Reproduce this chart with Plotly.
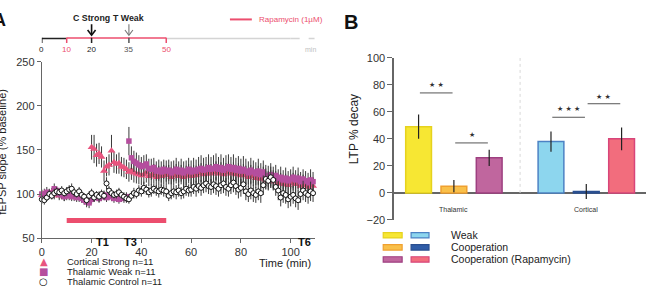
import plotly.graph_objects as go

# ---------------- DATA ----------------
time_min = list(range(0, 110))

cortical_strong = [99, 101, 98, 100, 102, 99, 101, 98, 100, 97,
                   99, 98, 100, 97, 99, 96, 98, 95, 94, 96,
                   153, 151, 144, 146, 142, 126, 131, 133, 149, 136,
                   134, 135, 131, 130, 128, 125, 127, 124, 123, 122,
                   121, 122, 124, 120, 121, 123, 119, 121, 120, 122,
                   121, 122, 119, 121, 123, 120, 122, 119, 121, 123,
                   120, 122, 121, 123, 124, 122, 123, 125, 123, 124,
                   126, 123, 125, 122, 124, 126, 123, 125, 122, 124,
                   121, 123, 121, 119, 122, 120, 118, 121, 117, 120,
                   116, 115, 117, 114, 116, 112, 114, 111, 113, 110,
                   112, 114, 111, 113, 109, 112, 110, 108, 111, 109]
cortical_strong_sem = [5, 5, 5, 5, 5, 5, 5, 5, 5, 5,
                       5, 5, 5, 5, 5, 5, 5, 5, 5, 5,
                       14, 16, 13, 12, 12, 12, 11, 12, 18, 12,
                       11, 12, 11, 11, 11, 11, 11, 11, 11, 11,
                       11, 11, 11, 11, 11, 11, 11, 11, 11, 11,
                       11, 11, 11, 11, 11, 11, 11, 11, 11, 11,
                       11, 11, 11, 11, 11, 11, 11, 11, 11, 11,
                       11, 11, 11, 11, 11, 11, 11, 11, 11, 11,
                       11, 11, 11, 11, 11, 11, 11, 11, 11, 11,
                       10, 10, 10, 10, 10, 10, 10, 10, 10, 10,
                       10, 10, 10, 10, 10, 10, 10, 10, 10, 10]

thalamic_weak = [100, 98, 102, 101, 99, 106, 104, 100, 99, 97,
                 98, 100, 97, 99, 96, 98, 95, 93, 91, 90,
                 94, 96, 98, 95, 97, 99, 96, 98, 97, 95,
                 96, 94, 96, 95, 97, 160, 141, 137, 135, 133,
                 131, 132, 134, 129, 128, 130, 126, 127, 125, 128,
                 126, 127, 124, 126, 128, 125, 127, 124, 126, 128,
                 125, 127, 126, 128, 129, 127, 128, 130, 128, 129,
                 131, 128, 130, 127, 129, 131, 128, 130, 127, 129,
                 126, 128, 126, 124, 127, 125, 123, 126, 122, 125,
                 121, 120, 122, 119, 121, 117, 119, 116, 118, 115,
                 117, 119, 116, 118, 114, 117, 115, 113, 116, 114]
thalamic_weak_sem = [5, 5, 6, 5, 5, 6, 5, 5, 5, 5,
                     5, 5, 5, 5, 5, 5, 5, 5, 6, 6,
                     5, 5, 5, 5, 5, 5, 5, 5, 5, 5,
                     5, 5, 5, 5, 5, 16, 13, 12, 12, 11,
                     11, 12, 11, 11, 12, 11, 11, 12, 12, 11,
                     12, 12, 13, 12, 13, 12, 13, 13, 12, 13,
                     13, 14, 13, 14, 15, 14, 14, 15, 14, 15,
                     15, 14, 15, 14, 15, 14, 14, 15, 14, 14,
                     14, 15, 14, 13, 14, 13, 13, 14, 13, 13,
                     12, 12, 13, 12, 12, 11, 12, 11, 12, 11,
                     11, 12, 11, 12, 11, 11, 11, 11, 12, 11]

thalamic_control = [94, 93, 96, 100, 98, 101, 103, 102, 104, 101,
                    103, 105, 106, 102, 100, 103, 99, 97, 93, 98,
                    101, 96, 99, 97, 100, 98, 112, 104, 101, 99,
                    100, 102, 99, 97, 95, 94, 98, 101, 100, 104,
                    103, 107, 105, 102, 104, 106, 104, 103, 105, 104,
                    103, 98, 101, 103, 102, 104, 101, 103, 106, 104,
                    105, 108, 106, 109, 107, 110, 112, 109, 108, 111,
                    109, 106, 110, 112, 108, 106, 110, 113, 109, 105,
                    107, 111, 103, 100, 104, 101, 99, 103, 101, 110,
                    117, 115, 119, 116, 108, 104, 96, 101, 99, 94,
                    97, 99, 95, 93, 100, 104, 101, 99, 103, 101]
thalamic_control_sem = [5, 5, 4, 5, 4, 5, 5, 4, 5, 4,
                        5, 5, 6, 5, 4, 5, 5, 4, 6, 5,
                        5, 5, 4, 6, 5, 5, 7, 5, 5, 4,
                        5, 5, 4, 5, 5, 5, 5, 6, 5, 6,
                        6, 7, 6, 6, 7, 6, 6, 7, 6, 7,
                        7, 6, 7, 7, 8, 7, 7, 8, 8, 7,
                        8, 8, 9, 8, 9, 9, 10, 9, 9, 10,
                        10, 9, 10, 11, 10, 9, 10, 11, 10, 10,
                        10, 11, 10, 9, 10, 10, 9, 10, 11, 11,
                        12, 11, 12, 11, 10, 11, 10, 11, 10, 10,
                        11, 10, 10, 11, 10, 11, 10, 10, 11, 10]

series_names = ["Cortical Strong n=11", "Thalamic Weak n=11", "Thalamic Control n=11"]

rapa_start, rapa_end, rapa_level = 10, 50, 70
stim_times = [20, 35]
stim_labels = ["C Strong", "T Weak"]
timeline_ticks = [0, 10, 20, 35, 50]
test_times = [24.4, 35.6, 105.6]
test_labels = ["T1", "T3", "T6"]

bar_groups = ["Thalamic", "Cortical"]
bar_series = ["Weak", "Cooperation", "Cooperation (Rapamycin)"]
weak_decay = [49, 38]
weak_sem = [9, 7.5]
coop_decay = [5, 1]
coop_sem = [4.5, 5.5]
rapa_decay = [26, 40]
rapa_sem = [6, 8.5]

# ---------------- STYLE ----------------
W, H = 646, 295
def fx(p): return p / W
def fy(p): return 1 - p / H

FONT = "Liberation Sans, Arial, sans-serif"
PINK = "#E8557F"
PURPLE = "#B54E9E"
RAPA = "#EC4E6E"
AX = "#666666"

bar_fill = [["#F7E733", "#8DD6EE"], ["#F9C04A", "#2F5DA8"], ["#C0669E", "#F26D7D"]]
bar_line = [["#E6D21E", "#4C82C4"], ["#F0A030", "#2A4F90"], ["#9E3F80", "#D8457A"]]

fig = go.Figure()

def add_series(y, err, name, symbol, size, color, lcolor, lwidth):
    fig.add_trace(go.Scatter(
        x=time_min, y=y, mode="markers", name=name,
        marker=dict(symbol=symbol, size=size, color=color,
                    line=dict(color=lcolor, width=lwidth)),
        error_y=dict(type="data", array=err, color="#3a3a3a", thickness=1, width=0),
        xaxis="x", yaxis="y", cliponaxis=False))

add_series(cortical_strong, cortical_strong_sem, series_names[0], "triangle-up", 7, PINK, PINK, 0)
add_series(thalamic_weak, thalamic_weak_sem, series_names[1], "square", 5.5, PURPLE, PURPLE, 0)
add_series(thalamic_control, thalamic_control_sem, series_names[2], "circle", 5, "white", "#111111", 1)

for i, (vals, sems) in enumerate([(weak_decay, weak_sem), (coop_decay, coop_sem), (rapa_decay, rapa_sem)]):
    fig.add_trace(go.Bar(
        x=bar_groups, y=vals, name=bar_series[i],
        marker=dict(color=bar_fill[i], line=dict(color=bar_line[i], width=1.5)),
        error_y=dict(type="data", array=sems, color="#222222", thickness=1.2, width=0),
        xaxis="x2", yaxis="y2"))

shapes = []
ann = []

def text(x, y, t, size, color="#222", xref="paper", yref="paper", xanchor="center",
         family=FONT, **kw):
    d = dict(x=x, y=y, xref=xref, yref=yref, text=t, showarrow=False, xanchor=xanchor,
             yanchor="middle", font=dict(size=size, color=color, family=family))
    d.update(kw)
    ann.append(d)

# rapamycin bar in panel A
shapes.append(dict(type="line", xref="x", yref="y", x0=rapa_start, x1=rapa_end,
                   y0=rapa_level, y1=rapa_level, line=dict(color=RAPA, width=5)))

# timeline
ty = fy(34)
shapes += [
    dict(type="line", xref="x", yref="paper", x0=0, x1=rapa_start, y0=ty, y1=ty, line=dict(color="#222", width=1.5)),
    dict(type="line", xref="x", yref="paper", x0=rapa_end, x1=100, y0=ty, y1=ty, line=dict(color="#d4d4d4", width=1.5)),
    dict(type="line", xref="x", yref="paper", x0=100, x1=110.4, y0=ty, y1=ty, line=dict(color="#d4d4d4", width=1.5, dash="dash")),
    dict(type="line", xref="x", yref="paper", x0=rapa_start, x1=rapa_end, y0=fy(33.3), y1=fy(33.3), line=dict(color=RAPA, width=1.5)),
]
tick_cols = {0: "#222", 10: RAPA, 20: "#222", 35: "#555", 50: RAPA}
for t in timeline_ticks:
    shapes.append(dict(type="line", xref="x", yref="paper", x0=t, x1=t, y0=fy(33), y1=fy(38.5),
                       line=dict(color=tick_cols[t], width=1.5)))
    text(t, fy(45), str(t), 8, tick_cols[t], xref="x")
text(108, fy(45), "min", 7, "#c0c0c0", xref="x")
for t, lab, col, w in zip(stim_times, stim_labels, ["#111", "#777"], [1.6, 1.1]):
    shapes.append(dict(type="line", xref="x", yref="paper", x0=t, x1=t, y0=fy(19), y1=fy(30),
                       line=dict(color=col, width=w)))
    shapes.append(dict(type="path", xref="x", yref="paper",
                       path="M %f,%f L %f,%f L %f,%f" % (t - 1.6, fy(25), t, fy(30.5), t + 1.6, fy(25)),
                       line=dict(color=col, width=w)))
    text(t, fy(13), "<b>%s</b>" % lab, 8.8, "#222", xref="x")
shapes.append(dict(type="line", xref="paper", yref="paper", x0=fx(228), x1=fx(250), y0=fy(14), y1=fy(14),
                   line=dict(color=RAPA, width=2)))
text(fx(255), fy(14), "Rapamycin (1µM)", 8, RAPA, xanchor="left")

# test labels
for t, lab in zip(test_times, test_labels):
    text(t, fy(246.5), "<b>%s</b>" % lab, 11, "#111", xref="x")

text(fx(311), fy(268), "Time (min)", 11, "#222", xanchor="right")
text(fx(-1), fy(152), "fEPSP slope (% baseline)", 11, "#222", textangle=-90)

# legend panel A
for i, (g, col) in enumerate(zip(["▲", "■", "○"], [PINK, PURPLE, "#111"])):
    yy = fy(266 + 10.5 * i)
    text(fx(41), yy, g, 10, col, family="DejaVu Sans")
    text(fx(62), yy, series_names[i], 9.5, "#222", xanchor="left")

# panel letters
text(fx(5), fy(15), "<b>A</b>", 18, "#111", xanchor="right")
text(fx(350), fy(17), "<b>B</b>", 20, "#111")

# Panel B decorations
slot = 0.8 / 3
shapes.append(dict(type="line", xref="x2", yref="y2", x0=0.5, x1=0.5, y0=0, y1=100,
                   line=dict(color="#d8d8d8", width=1, dash="dot")))
sig = [(-slot, 0, 74, 80, "★ ★"), (0, slot, 37, 42.5, "★"),
       (1 - slot, 1, 56, 62, "★ ★ ★"), (1, 1 + slot, 66, 71, "★ ★")]
for x0, x1, yl, ys, txt in sig:
    shapes.append(dict(type="line", xref="x2", yref="y2", x0=x0 + 0.01, x1=x1 - 0.01, y0=yl, y1=yl,
                       line=dict(color="#555", width=1)))
    text((x0 + x1) / 2, ys, txt, 7, "#333", xref="x2", yref="y2", family="DejaVu Sans")
for g in bar_groups:
    text(g, -12.5, g, 7, "#333", xref="x2", yref="y2")
text(fx(352), fy(128), "LTP % decay", 12, "#222", textangle=-90)

# legend panel B
for i in range(3):
    yc = 239 + 12.6 * i
    for j, (xa, xb) in enumerate([(382, 401), (410, 428)]):
        shapes.append(dict(type="rect", xref="paper", yref="paper", x0=fx(xa), x1=fx(xb),
                           y0=fy(yc - 2.8), y1=fy(yc + 2.8), fillcolor=bar_fill[i][j],
                           line=dict(color=bar_line[i][j], width=1.2)))
    text(fx(448), fy(yc), bar_series[i], 10.5, "#222", xanchor="left")

axis_common = dict(showline=True, linecolor=AX, linewidth=1, ticks="outside", ticklen=4,
                   tickcolor=AX, tickfont=dict(size=11, color="#333", family=FONT),
                   showgrid=False, zeroline=False)

fig.update_layout(
    width=W, height=H, margin=dict(l=0, r=0, t=0, b=0),
    paper_bgcolor="white", plot_bgcolor="white", showlegend=False,
    barmode="group", bargap=0.2, bargroupgap=0.27,
    xaxis=dict(domain=[fx(39), fx(313)], range=[0, 109.6], tickvals=[0, 20, 40, 60, 80, 100],
               anchor="y", **axis_common),
    yaxis=dict(domain=[fy(242), fy(58)], range=[50, 250], tickvals=[50, 100, 150, 200, 250],
               anchor="x", **axis_common),
    xaxis2=dict(domain=[fx(393), 1], range=[-0.451, 1.451], type="category", showticklabels=False,
                showline=False, ticks="", showgrid=False, zeroline=False, anchor="y2"),
    yaxis2=dict(domain=[fy(223), fy(54)], range=[-20, 100], tickvals=[-20, 0, 20, 40, 60, 80, 100],
                anchor="x2", showline=True, linecolor=AX, linewidth=1.5, ticks="outside", ticklen=5,
                tickcolor=AX, tickfont=dict(size=11, color="#333", family=FONT), showgrid=False,
                zeroline=True, zerolinecolor=AX, zerolinewidth=1.5),
    shapes=shapes, annotations=ann,
)

fig.write_html("out.html")
